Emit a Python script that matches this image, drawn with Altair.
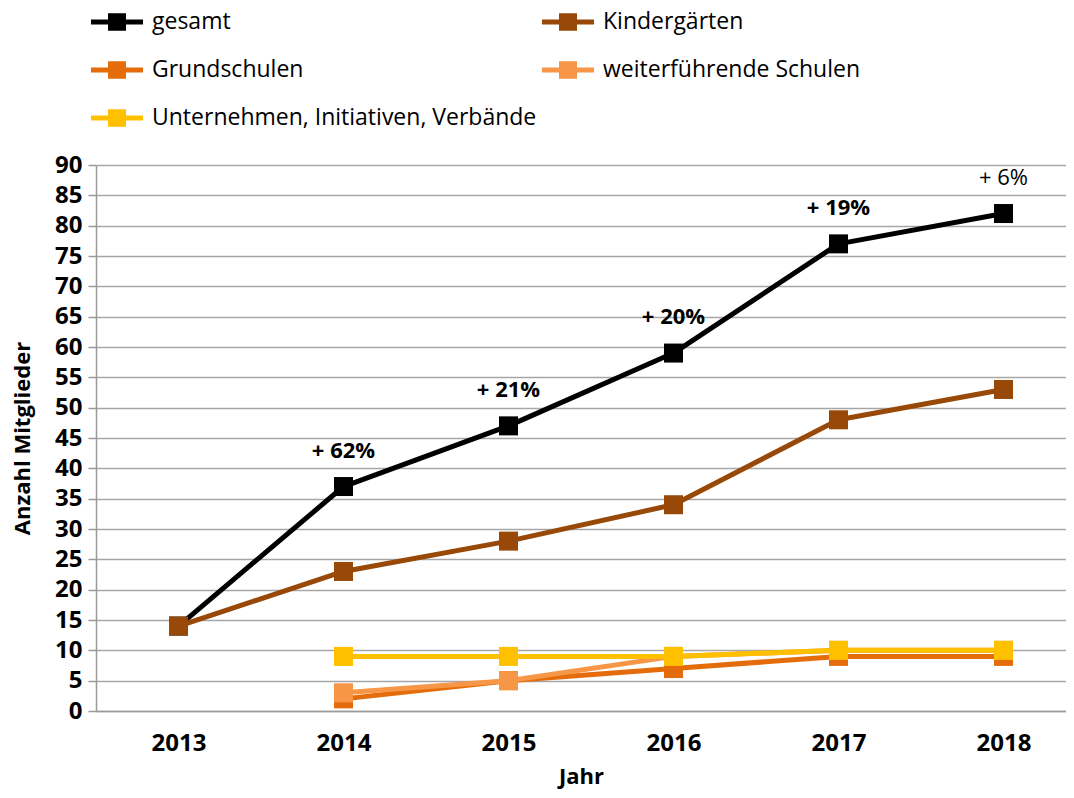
import altair as alt
import pandas as pd

years = ["2013", "2014", "2015", "2016", "2017", "2018"]
series_names = ["gesamt", "Kindergärten", "Grundschulen",
                "weiterführende Schulen", "Unternehmen, Initiativen, Verbände"]
gesamt = [14, 37, 47, 59, 77, 82]
kindergaerten = [14, 23, 28, 34, 48, 53]
grundschulen = [None, 2, 5, 7, 9, 9]
weiterfuehrende = [None, 3, 5, 9, 10, 10]
unternehmen = [None, 9, 9, 9, 10, 10]
series_colors = ["#000000", "#984807", "#E46C0A", "#F79646", "#FFC000"]

growth_years = ["2014", "2015", "2016", "2017", "2018"]
growth_labels = ["+ 62%", "+ 21%", "+ 20%", "+ 19%", "+ 6%"]
growth_bold = [True, True, True, True, False]
y_ticks = list(range(0, 95, 5))

FONT = "Open Sans"

rows = []
for name, vals in zip(series_names, [gesamt, kindergaerten, grundschulen, weiterfuehrende, unternehmen]):
    for yr, v in zip(years, vals):
        if v is not None:
            rows.append({"Jahr": yr, "Wert": v, "Reihe": name})
df = pd.DataFrame(rows)

gdf = pd.DataFrame({
    "Jahr": growth_years,
    "Wert": [gesamt[years.index(y)] for y in growth_years],
    "Label": growth_labels,
    "Bold": growth_bold,
})

x_enc = alt.X("Jahr:O", sort=years,
              scale=alt.Scale(type="point", padding=0.4394, align=0.569),
              axis=alt.Axis(title="Jahr", labelAngle=0, ticks=False,
                            labelPadding=20, titleY=65, titleBaseline="middle",
                            domainColor="#9a9a9a", domainWidth=1.5))
y_enc = alt.Y("Wert:Q", scale=alt.Scale(domain=[0, 90], nice=False, zero=True),
              axis=alt.Axis(title="Anzahl Mitglieder", values=y_ticks,
                            tickSize=8, tickColor="#9a9a9a", tickWidth=1.5,
                            domainColor="#9a9a9a", domainWidth=1.5,
                            gridColor="#a6a6a6", gridWidth=1.5,
                            labelPadding=6,
                            titleX=-74, titleY=273, titleAngle=270,
                            titleAlign="center", titleBaseline="middle"))

color_scale = alt.Scale(domain=series_names, range=series_colors)

# legend symbol: a thick line with a square marker, drawn around a 24px symbol box
legend_path = ("M-2.17,-0.21L2.17,-0.21L2.17,0.21L-2.17,0.21Z"
               "M-0.75,-0.72L0.75,-0.72L0.75,0.72L-0.75,0.72Z")

legend = alt.Legend(
    title=None, orient="none", legendX=9, legendY=-155, direction="horizontal",
    columns=2, symbolType=legend_path, symbolSize=576,
    symbolStrokeWidth=0, symbolOpacity=1,
    labelOffset=23, rowPadding=24, columnPadding=4,
    labelFontSize=23, labelFont=FONT, labelColor="#000000", labelLimit=600,
)
color_enc = alt.Color("Reihe:N", scale=color_scale, legend=legend)

layers = []
for name in series_names:
    base = alt.Chart(df).transform_filter(alt.datum.Reihe == name)
    pts = base.mark_point(shape="square", filled=True, size=361, opacity=1).encode(
        x=x_enc, y=y_enc, color=color_enc,
    )
    line = base.mark_line(strokeWidth=5, strokeCap="round", strokeJoin="round").encode(
        x=x_enc, y=y_enc, color=color_enc,
    )
    layers += [pts, line]

text_bold = alt.Chart(gdf).transform_filter(alt.datum.Bold == True).mark_text(
    dy=-36, fontSize=22, fontWeight="bold", font=FONT, color="#000000"
).encode(x=x_enc, y=y_enc, text="Label:N")
text_norm = alt.Chart(gdf).transform_filter(alt.datum.Bold == False).mark_text(
    dy=-36, fontSize=22, fontWeight="normal", font=FONT, color="#000000"
).encode(x=x_enc, y=y_enc, text="Label:N")
layers += [text_bold, text_norm]

chart = alt.layer(*layers).properties(
    width=970, height=546, autosize="none",
    padding={"left": 88, "top": 157, "right": 0, "bottom": 79},
).configure(font=FONT).configure_view(stroke=None).configure_axis(
    labelFont=FONT, labelFontSize=24, labelFontWeight="bold", labelColor="#000000",
    titleFont=FONT, titleFontSize=22, titleFontWeight="bold", titleColor="#000000",
).configure_axisX(grid=False).configure_legend(padding=0)

chart.save("out.html", embed_options={"renderer": "svg", "actions": False})
